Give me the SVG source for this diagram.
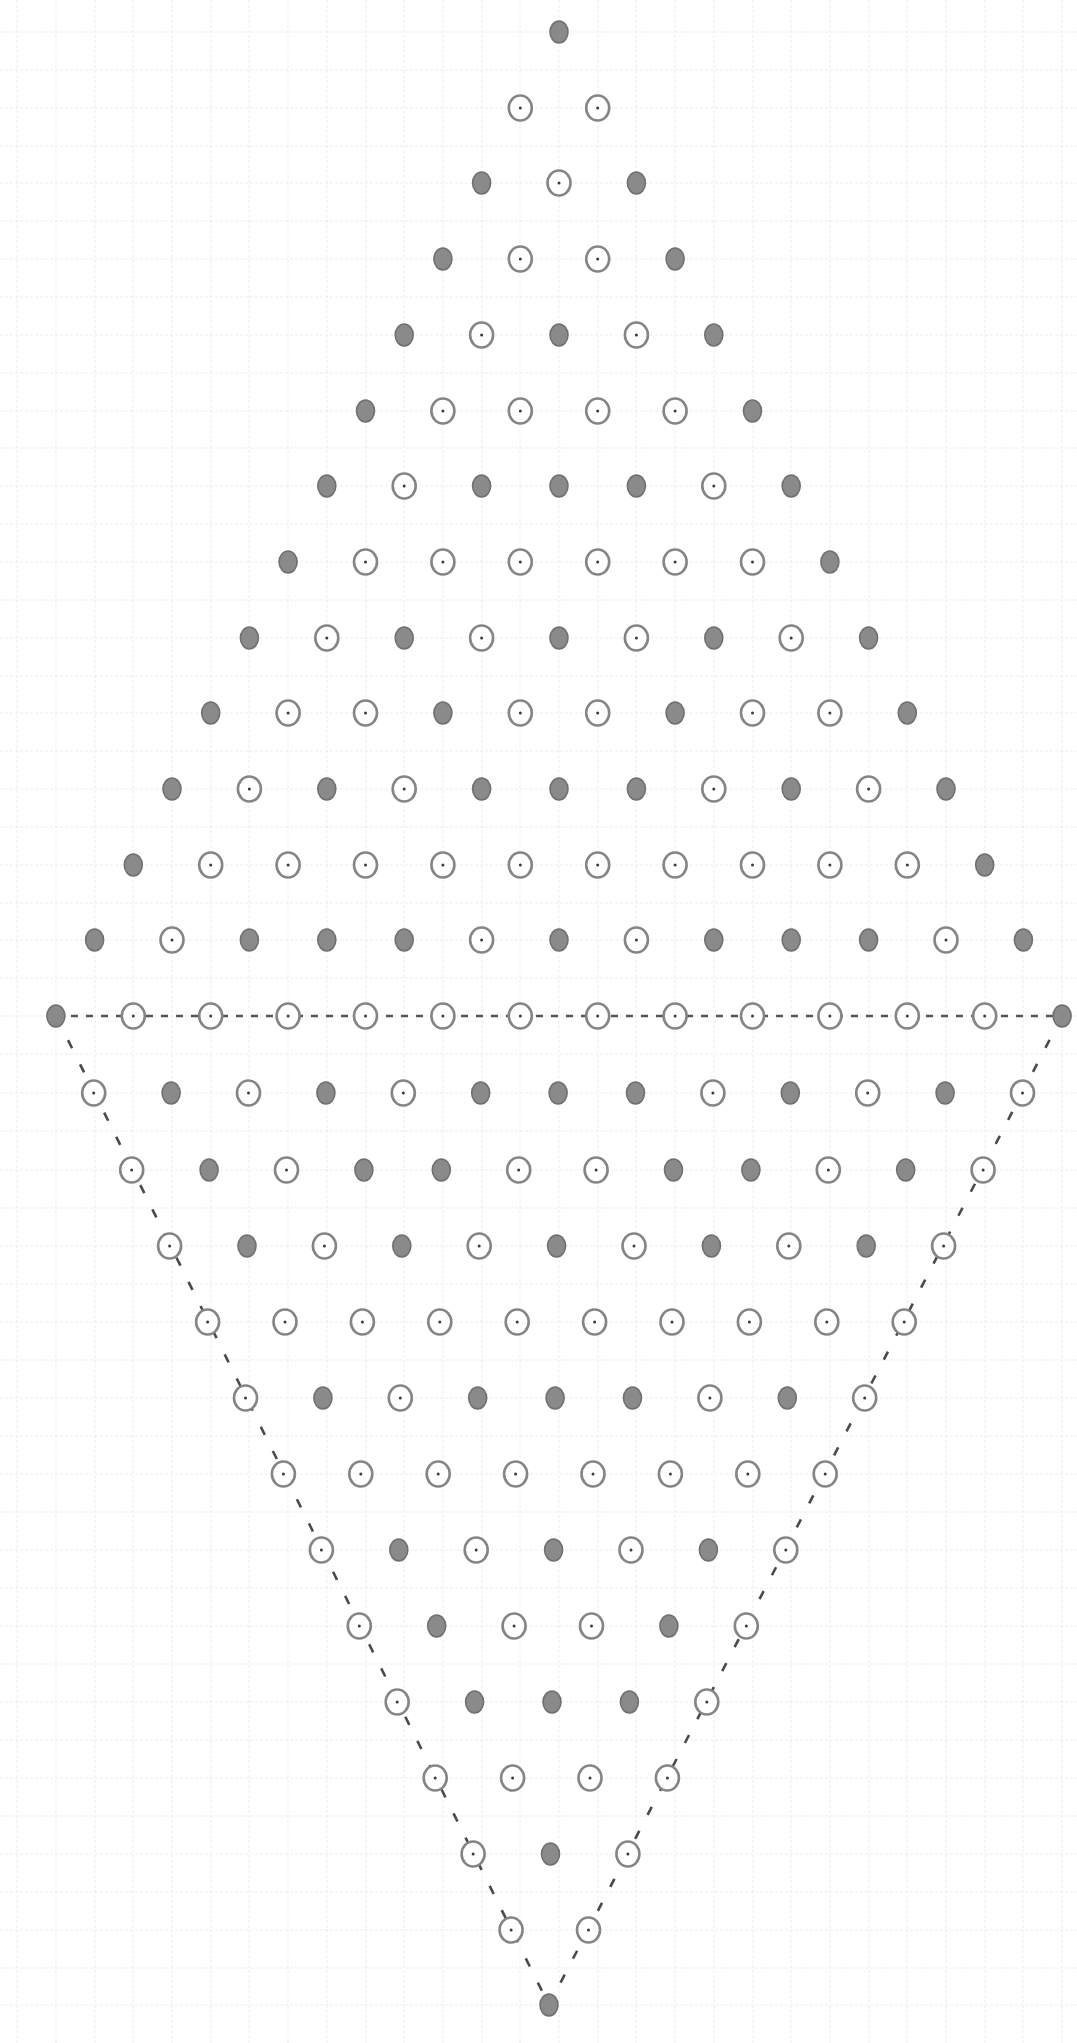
<svg xmlns="http://www.w3.org/2000/svg" xmlns:xlink="http://www.w3.org/1999/xlink" width="1077" height="2043" viewBox="0 0 1077 2043">
<style>
.grid{fill:none;stroke:#d9d9d9;stroke-width:0.8;stroke-dasharray:3 2;opacity:0.6}
.open{fill:#fff;stroke:#858585;stroke-width:2.6}
.ctr{fill:#3a3a3a}
.full{fill:#8a8a8a;stroke:#707070;stroke-width:1.6}
.hdash{fill:none;stroke:#555;stroke-width:2.4;stroke-dasharray:7 8}
.ddash{fill:none;stroke:#4a4a4a;stroke-width:2.6;stroke-dasharray:9 18}
</style>
<defs>
<g id="O"><ellipse rx="11.5" ry="12.5" class="open"/><circle r="1.5" class="ctr"/></g>
<ellipse id="F" rx="9" ry="11" class="full"/>
</defs>
<rect width="1077" height="2043" fill="#fff"/>
<path class="grid" d="M17,0V2043M56,0V2043M95,0V2043M133,0V2043M172,0V2043M211,0V2043M249,0V2043M288,0V2043M327,0V2043M366,0V2043M404,0V2043M443,0V2043M482,0V2043M520,0V2043M559,0V2043M598,0V2043M636,0V2043M675,0V2043M714,0V2043M753,0V2043M791,0V2043M830,0V2043M869,0V2043M907,0V2043M946,0V2043M985,0V2043M1023,0V2043M1062,0V2043
M0,32H1077M0,70H1077M0,108H1077M0,146H1077M0,183H1077M0,221H1077M0,259H1077M0,297H1077M0,335H1077M0,373H1077M0,411H1077M0,448H1077M0,486H1077M0,524H1077M0,562H1077M0,600H1077M0,638H1077M0,676H1077M0,713H1077M0,751H1077M0,789H1077M0,827H1077M0,865H1077M0,903H1077M0,940H1077M0,978H1077M0,1016H1077M0,1054H1077M0,1093H1077M0,1131H1077M0,1170H1077M0,1208H1077M0,1246H1077M0,1284H1077M0,1322H1077M0,1360H1077M0,1398H1077M0,1436H1077M0,1474H1077M0,1512H1077M0,1550H1077M0,1588H1077M0,1626H1077M0,1664H1077M0,1702H1077M0,1740H1077M0,1778H1077M0,1816H1077M0,1854H1077M0,1892H1077M0,1930H1077M0,1968H1077M0,2005H1077"/>
<g id="connectors">
<path class="hdash" d="M56,1016H1062"/>
<path class="ddash" d="M56,1016L549,2005"/>
<path class="ddash" d="M1062,1016L549,2005"/>
</g>
<g id="row0"><use id="n0_0" href="#F" x="559" y="32"/></g>
<g id="row1"><use id="n1_0" href="#O" x="520.3" y="108"/><use id="n1_1" href="#O" x="597.7" y="108"/></g>
<g id="row2"><use id="n2_0" href="#F" x="481.6" y="183"/><use id="n2_1" href="#O" x="559" y="183"/><use id="n2_2" href="#F" x="636.4" y="183"/></g>
<g id="row3"><use id="n3_0" href="#F" x="442.9" y="259"/><use id="n3_1" href="#O" x="520.3" y="259"/><use id="n3_2" href="#O" x="597.7" y="259"/><use id="n3_3" href="#F" x="675.1" y="259"/></g>
<g id="row4"><use id="n4_0" href="#F" x="404.2" y="335"/><use id="n4_1" href="#O" x="481.6" y="335"/><use id="n4_2" href="#F" x="559" y="335"/><use id="n4_3" href="#O" x="636.4" y="335"/><use id="n4_4" href="#F" x="713.8" y="335"/></g>
<g id="row5"><use id="n5_0" href="#F" x="365.5" y="411"/><use id="n5_1" href="#O" x="442.9" y="411"/><use id="n5_2" href="#O" x="520.3" y="411"/><use id="n5_3" href="#O" x="597.7" y="411"/><use id="n5_4" href="#O" x="675.1" y="411"/><use id="n5_5" href="#F" x="752.5" y="411"/></g>
<g id="row6"><use id="n6_0" href="#F" x="326.8" y="486"/><use id="n6_1" href="#O" x="404.2" y="486"/><use id="n6_2" href="#F" x="481.6" y="486"/><use id="n6_3" href="#F" x="559" y="486"/><use id="n6_4" href="#F" x="636.4" y="486"/><use id="n6_5" href="#O" x="713.8" y="486"/><use id="n6_6" href="#F" x="791.2" y="486"/></g>
<g id="row7"><use id="n7_0" href="#F" x="288.1" y="562"/><use id="n7_1" href="#O" x="365.5" y="562"/><use id="n7_2" href="#O" x="442.9" y="562"/><use id="n7_3" href="#O" x="520.3" y="562"/><use id="n7_4" href="#O" x="597.7" y="562"/><use id="n7_5" href="#O" x="675.1" y="562"/><use id="n7_6" href="#O" x="752.5" y="562"/><use id="n7_7" href="#F" x="829.9" y="562"/></g>
<g id="row8"><use id="n8_0" href="#F" x="249.4" y="638"/><use id="n8_1" href="#O" x="326.8" y="638"/><use id="n8_2" href="#F" x="404.2" y="638"/><use id="n8_3" href="#O" x="481.6" y="638"/><use id="n8_4" href="#F" x="559" y="638"/><use id="n8_5" href="#O" x="636.4" y="638"/><use id="n8_6" href="#F" x="713.8" y="638"/><use id="n8_7" href="#O" x="791.2" y="638"/><use id="n8_8" href="#F" x="868.6" y="638"/></g>
<g id="row9"><use id="n9_0" href="#F" x="210.7" y="713"/><use id="n9_1" href="#O" x="288.1" y="713"/><use id="n9_2" href="#O" x="365.5" y="713"/><use id="n9_3" href="#F" x="442.9" y="713"/><use id="n9_4" href="#O" x="520.3" y="713"/><use id="n9_5" href="#O" x="597.7" y="713"/><use id="n9_6" href="#F" x="675.1" y="713"/><use id="n9_7" href="#O" x="752.5" y="713"/><use id="n9_8" href="#O" x="829.9" y="713"/><use id="n9_9" href="#F" x="907.3" y="713"/></g>
<g id="row10"><use id="n10_0" href="#F" x="172" y="789"/><use id="n10_1" href="#O" x="249.4" y="789"/><use id="n10_2" href="#F" x="326.8" y="789"/><use id="n10_3" href="#O" x="404.2" y="789"/><use id="n10_4" href="#F" x="481.6" y="789"/><use id="n10_5" href="#F" x="559" y="789"/><use id="n10_6" href="#F" x="636.4" y="789"/><use id="n10_7" href="#O" x="713.8" y="789"/><use id="n10_8" href="#F" x="791.2" y="789"/><use id="n10_9" href="#O" x="868.6" y="789"/><use id="n10_10" href="#F" x="946" y="789"/></g>
<g id="row11"><use id="n11_0" href="#F" x="133.3" y="865"/><use id="n11_1" href="#O" x="210.7" y="865"/><use id="n11_2" href="#O" x="288.1" y="865"/><use id="n11_3" href="#O" x="365.5" y="865"/><use id="n11_4" href="#O" x="442.9" y="865"/><use id="n11_5" href="#O" x="520.3" y="865"/><use id="n11_6" href="#O" x="597.7" y="865"/><use id="n11_7" href="#O" x="675.1" y="865"/><use id="n11_8" href="#O" x="752.5" y="865"/><use id="n11_9" href="#O" x="829.9" y="865"/><use id="n11_10" href="#O" x="907.3" y="865"/><use id="n11_11" href="#F" x="984.7" y="865"/></g>
<g id="row12"><use id="n12_0" href="#F" x="94.6" y="940"/><use id="n12_1" href="#O" x="172" y="940"/><use id="n12_2" href="#F" x="249.4" y="940"/><use id="n12_3" href="#F" x="326.8" y="940"/><use id="n12_4" href="#F" x="404.2" y="940"/><use id="n12_5" href="#O" x="481.6" y="940"/><use id="n12_6" href="#F" x="559" y="940"/><use id="n12_7" href="#O" x="636.4" y="940"/><use id="n12_8" href="#F" x="713.8" y="940"/><use id="n12_9" href="#F" x="791.2" y="940"/><use id="n12_10" href="#F" x="868.6" y="940"/><use id="n12_11" href="#O" x="946" y="940"/><use id="n12_12" href="#F" x="1023.4" y="940"/></g>
<g id="row13"><use id="n13_0" href="#F" x="55.9" y="1016"/><use id="n13_1" href="#O" x="133.3" y="1016"/><use id="n13_2" href="#O" x="210.7" y="1016"/><use id="n13_3" href="#O" x="288.1" y="1016"/><use id="n13_4" href="#O" x="365.5" y="1016"/><use id="n13_5" href="#O" x="442.9" y="1016"/><use id="n13_6" href="#O" x="520.3" y="1016"/><use id="n13_7" href="#O" x="597.7" y="1016"/><use id="n13_8" href="#O" x="675.1" y="1016"/><use id="n13_9" href="#O" x="752.5" y="1016"/><use id="n13_10" href="#O" x="829.9" y="1016"/><use id="n13_11" href="#O" x="907.3" y="1016"/><use id="n13_12" href="#O" x="984.7" y="1016"/><use id="n13_13" href="#F" x="1062.1" y="1016"/></g>
<g id="row14"><use id="n14_0" href="#O" x="93.7" y="1093"/><use id="n14_1" href="#F" x="171.1" y="1093"/><use id="n14_2" href="#O" x="248.5" y="1093"/><use id="n14_3" href="#F" x="325.9" y="1093"/><use id="n14_4" href="#O" x="403.3" y="1093"/><use id="n14_5" href="#F" x="480.7" y="1093"/><use id="n14_6" href="#F" x="558.1" y="1093"/><use id="n14_7" href="#F" x="635.5" y="1093"/><use id="n14_8" href="#O" x="712.9" y="1093"/><use id="n14_9" href="#F" x="790.3" y="1093"/><use id="n14_10" href="#O" x="867.7" y="1093"/><use id="n14_11" href="#F" x="945.1" y="1093"/><use id="n14_12" href="#O" x="1022.5" y="1093"/></g>
<g id="row15"><use id="n15_0" href="#O" x="131.7" y="1170"/><use id="n15_1" href="#F" x="209.1" y="1170"/><use id="n15_2" href="#O" x="286.5" y="1170"/><use id="n15_3" href="#F" x="363.9" y="1170"/><use id="n15_4" href="#F" x="441.3" y="1170"/><use id="n15_5" href="#O" x="518.7" y="1170"/><use id="n15_6" href="#O" x="596.1" y="1170"/><use id="n15_7" href="#F" x="673.5" y="1170"/><use id="n15_8" href="#F" x="750.9" y="1170"/><use id="n15_9" href="#O" x="828.3" y="1170"/><use id="n15_10" href="#F" x="905.7" y="1170"/><use id="n15_11" href="#O" x="983.1" y="1170"/></g>
<g id="row16"><use id="n16_0" href="#O" x="169.6" y="1246"/><use id="n16_1" href="#F" x="247" y="1246"/><use id="n16_2" href="#O" x="324.4" y="1246"/><use id="n16_3" href="#F" x="401.8" y="1246"/><use id="n16_4" href="#O" x="479.2" y="1246"/><use id="n16_5" href="#F" x="556.6" y="1246"/><use id="n16_6" href="#O" x="634" y="1246"/><use id="n16_7" href="#F" x="711.4" y="1246"/><use id="n16_8" href="#O" x="788.8" y="1246"/><use id="n16_9" href="#F" x="866.2" y="1246"/><use id="n16_10" href="#O" x="943.6" y="1246"/></g>
<g id="row17"><use id="n17_0" href="#O" x="207.6" y="1322"/><use id="n17_1" href="#O" x="285" y="1322"/><use id="n17_2" href="#O" x="362.4" y="1322"/><use id="n17_3" href="#O" x="439.8" y="1322"/><use id="n17_4" href="#O" x="517.2" y="1322"/><use id="n17_5" href="#O" x="594.6" y="1322"/><use id="n17_6" href="#O" x="672" y="1322"/><use id="n17_7" href="#O" x="749.4" y="1322"/><use id="n17_8" href="#O" x="826.8" y="1322"/><use id="n17_9" href="#O" x="904.2" y="1322"/></g>
<g id="row18"><use id="n18_0" href="#O" x="245.5" y="1398"/><use id="n18_1" href="#F" x="322.9" y="1398"/><use id="n18_2" href="#O" x="400.3" y="1398"/><use id="n18_3" href="#F" x="477.7" y="1398"/><use id="n18_4" href="#F" x="555.1" y="1398"/><use id="n18_5" href="#F" x="632.5" y="1398"/><use id="n18_6" href="#O" x="709.9" y="1398"/><use id="n18_7" href="#F" x="787.3" y="1398"/><use id="n18_8" href="#O" x="864.7" y="1398"/></g>
<g id="row19"><use id="n19_0" href="#O" x="283.4" y="1474"/><use id="n19_1" href="#O" x="360.8" y="1474"/><use id="n19_2" href="#O" x="438.2" y="1474"/><use id="n19_3" href="#O" x="515.6" y="1474"/><use id="n19_4" href="#O" x="593" y="1474"/><use id="n19_5" href="#O" x="670.4" y="1474"/><use id="n19_6" href="#O" x="747.8" y="1474"/><use id="n19_7" href="#O" x="825.2" y="1474"/></g>
<g id="row20"><use id="n20_0" href="#O" x="321.4" y="1550"/><use id="n20_1" href="#F" x="398.8" y="1550"/><use id="n20_2" href="#O" x="476.2" y="1550"/><use id="n20_3" href="#F" x="553.6" y="1550"/><use id="n20_4" href="#O" x="631" y="1550"/><use id="n20_5" href="#F" x="708.4" y="1550"/><use id="n20_6" href="#O" x="785.8" y="1550"/></g>
<g id="row21"><use id="n21_0" href="#O" x="359.3" y="1626"/><use id="n21_1" href="#F" x="436.7" y="1626"/><use id="n21_2" href="#O" x="514.1" y="1626"/><use id="n21_3" href="#O" x="591.5" y="1626"/><use id="n21_4" href="#F" x="668.9" y="1626"/><use id="n21_5" href="#O" x="746.3" y="1626"/></g>
<g id="row22"><use id="n22_0" href="#O" x="397.2" y="1702"/><use id="n22_1" href="#F" x="474.6" y="1702"/><use id="n22_2" href="#F" x="552" y="1702"/><use id="n22_3" href="#F" x="629.4" y="1702"/><use id="n22_4" href="#O" x="706.8" y="1702"/></g>
<g id="row23"><use id="n23_0" href="#O" x="435.2" y="1778"/><use id="n23_1" href="#O" x="512.6" y="1778"/><use id="n23_2" href="#O" x="590" y="1778"/><use id="n23_3" href="#O" x="667.4" y="1778"/></g>
<g id="row24"><use id="n24_0" href="#O" x="473.1" y="1854"/><use id="n24_1" href="#F" x="550.5" y="1854"/><use id="n24_2" href="#O" x="627.9" y="1854"/></g>
<g id="row25"><use id="n25_0" href="#O" x="511.1" y="1930"/><use id="n25_1" href="#O" x="588.5" y="1930"/></g>
<g id="row26"><use id="n26_0" href="#F" x="549" y="2005"/></g>
</svg>
